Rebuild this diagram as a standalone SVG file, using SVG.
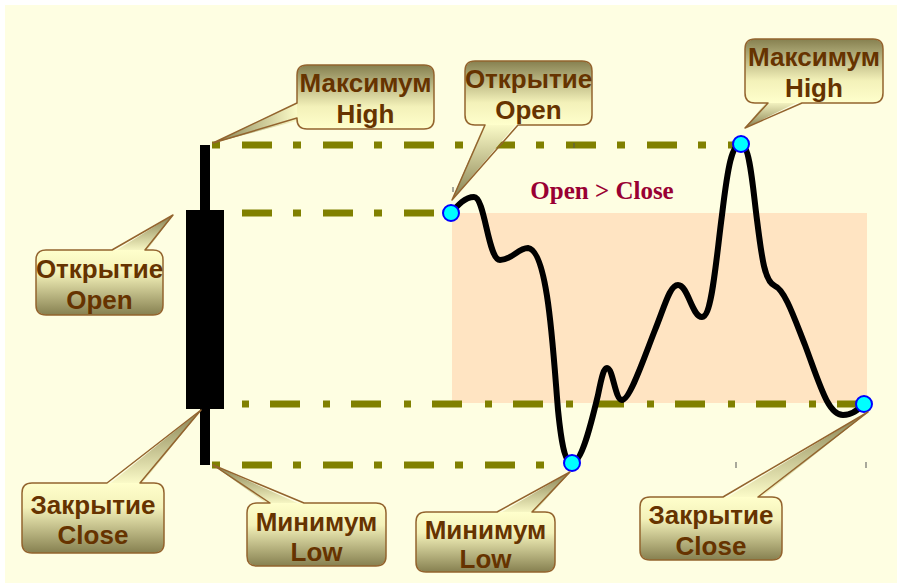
<svg xmlns="http://www.w3.org/2000/svg" width="899" height="584" viewBox="0 0 899 584">
<defs>
<linearGradient id="boxDown" x1="0" y1="0" x2="0" y2="1"><stop offset="0" stop-color="#868050"/><stop offset="0.65" stop-color="#F3F1B9"/><stop offset="1" stop-color="#FFFFCC"/></linearGradient>
<linearGradient id="boxUp" x1="0" y1="1" x2="0" y2="0"><stop offset="0" stop-color="#868050"/><stop offset="0.65" stop-color="#F3F1B9"/><stop offset="1" stop-color="#FFFFCC"/></linearGradient>
<linearGradient id="tailDown" x1="0" y1="0" x2="0" y2="1"><stop offset="0" stop-color="#FFFFCC"/><stop offset="1" stop-color="#868050"/></linearGradient>
<linearGradient id="tailUp" x1="0" y1="1" x2="0" y2="0"><stop offset="0" stop-color="#FFFFCC"/><stop offset="1" stop-color="#868050"/></linearGradient>
<linearGradient id="tailLeft" x1="1" y1="0" x2="0" y2="0"><stop offset="0" stop-color="#FFFFCC"/><stop offset="1" stop-color="#868050"/></linearGradient>
<style>
.outline{fill:none;stroke:#93642E;stroke-width:1.5;stroke-linejoin:round}
.lbl{font-family:"Liberation Sans",Arial,sans-serif;font-weight:bold;font-size:26px;fill:#663300;text-anchor:middle}
.dd{stroke:#808000;stroke-width:7;fill:none}
.pt{fill:#00FFFF;stroke:#0000FF;stroke-width:2}
.tick{stroke:#555;stroke-width:1}
</style>
</defs>
<rect x="0" y="0" width="899" height="584" fill="#FFFFFF"/>
<rect x="5" y="5" width="892" height="578" fill="#FEFEE2"/>
<rect x="452" y="213" width="415" height="190" fill="#FFE4C2"/>
<text x="602" y="199" font-family="Liberation Serif,Times New Roman,serif" font-weight="bold" font-size="25" fill="#990033" text-anchor="middle">Open &gt; Close</text>
<g id="connectors">
<line class="dd" x1="212" y1="145" x2="741" y2="145" stroke-dasharray="8 22 30 21"/>
<line class="dd" x1="242" y1="213" x2="450" y2="213" stroke-dasharray="30 21 8 22"/>
<line class="dd" x1="242" y1="404" x2="864" y2="404" stroke-dasharray="7 21 30 23"/>
<line class="dd" x1="212" y1="465" x2="572" y2="465" stroke-dasharray="8 22 30 21"/>
<line class="tick" x1="453" y1="187" x2="453" y2="192"/>
<line class="tick" x1="574" y1="143" x2="574" y2="148"/>
<line class="tick" x1="736" y1="462" x2="736" y2="468"/>
<line class="tick" x1="866" y1="462" x2="866" y2="468"/>
</g>
<g id="candle">
<rect x="200" y="145" width="10" height="320" fill="#000"/>
<rect x="186" y="210" width="38" height="199" fill="#000"/>
</g>
<g id="price-curve">
<path d="M451,213 C458,205 465,197 474,197 C485,197 488,260 500,260 C512,260 518,248 528,248 C548,250 553,350 558,410 C562,450 566,463 572,463 C582,463 592,420 598,395 C602,375 604,368 607,368 C613,368 615,400 622,400 C630,400 645,355 655,330 C665,305 670,285 678,285 C688,285 692,317 702,317 C712,317 716,260 722,215 C728,165 732,144 741,144 C750,144 753,190 757,220 C762,260 765,282 775,286 C785,290 795,320 805,345 C820,385 828,415 843,415 C852,415 858,410 864,404" fill="none" stroke="#000" stroke-width="6" stroke-linecap="round" stroke-linejoin="round"/>
<circle class="pt" cx="451" cy="213" r="8"/>
<circle class="pt" cx="741" cy="144" r="8"/>
<circle class="pt" cx="572" cy="463" r="8"/>
<circle class="pt" cx="864" cy="404" r="8"/>
</g>
<g id="c-max-left">
<polygon points="300,101 213,143 300,120" fill="url(#tailLeft)"/>
<rect x="297" y="65" width="137" height="64" rx="10" fill="url(#boxDown)"/>
<path class="outline" d="M307,65 L424,65 Q434,65 434,75 L434,119 Q434,129 424,129 L307,129 Q297,129 297,119 L297,118 L213,143 L297,103 L297,75 Q297,65 307,65 Z"/>
<text class="lbl" x="365.5" y="92">Максимум</text>
<text class="lbl" x="365.5" y="123">High</text>
</g>
<g id="c-open-top">
<polygon points="485,122 452,200 518,122" fill="url(#tailDown)"/>
<rect x="465" y="61" width="127" height="64" rx="10" fill="url(#boxDown)"/>
<path class="outline" d="M475,61 L582,61 Q592,61 592,71 L592,115 Q592,125 582,125 L518,125 L452,200 L485,125 L475,125 Q465,125 465,115 L465,71 Q465,61 475,61 Z"/>
<text class="lbl" x="528.5" y="88">Открытие</text>
<text class="lbl" x="528.5" y="119">Open</text>
</g>
<g id="c-max-right">
<polygon points="768,100 745,128 802,100" fill="url(#tailDown)"/>
<rect x="745" y="39" width="138" height="64" rx="10" fill="url(#boxDown)"/>
<path class="outline" d="M755,39 L873,39 Q883,39 883,49 L883,93 Q883,103 873,103 L802,103 L745,128 L768,103 L755,103 Q745,103 745,93 L745,49 Q745,39 755,39 Z"/>
<text class="lbl" x="814" y="66">Максимум</text>
<text class="lbl" x="814" y="97">High</text>
</g>
<g id="c-open-left">
<polygon points="112,253 173,215 145,253" fill="url(#tailUp)"/>
<rect x="36" y="250" width="127" height="65" rx="10" fill="url(#boxUp)"/>
<path class="outline" d="M46,250 L112,250 L173,215 L145,250 L153,250 Q163,250 163,260 L163,305 Q163,315 153,315 L46,315 Q36,315 36,305 L36,260 Q36,250 46,250 Z"/>
<text class="lbl" x="99.5" y="278">Открытие</text>
<text class="lbl" x="99.5" y="309">Open</text>
</g>
<g id="c-close-left">
<polygon points="107,486 201,410 140,486" fill="url(#tailUp)"/>
<rect x="22" y="483" width="142" height="70" rx="10" fill="url(#boxUp)"/>
<path class="outline" d="M32,483 L107,483 L201,410 L140,483 L154,483 Q164,483 164,493 L164,543 Q164,553 154,553 L32,553 Q22,553 22,543 L22,493 Q22,483 32,483 Z"/>
<text class="lbl" x="93" y="514">Закрытие</text>
<text class="lbl" x="93" y="544">Close</text>
</g>
<g id="c-min-left">
<polygon points="270,506 213,465 304,506" fill="url(#tailUp)"/>
<rect x="247" y="503" width="139" height="63" rx="10" fill="url(#boxUp)"/>
<path class="outline" d="M257,503 L270,503 L213,465 L304,503 L376,503 Q386,503 386,513 L386,556 Q386,566 376,566 L257,566 Q247,566 247,556 L247,513 Q247,503 257,503 Z"/>
<text class="lbl" x="316.5" y="531">Минимум</text>
<text class="lbl" x="316.5" y="561">Low</text>
</g>
<g id="c-min-mid">
<polygon points="497,515 570,472 532,515" fill="url(#tailUp)"/>
<rect x="416" y="512" width="139" height="60" rx="10" fill="url(#boxUp)"/>
<path class="outline" d="M426,512 L497,512 L570,472 L532,512 L545,512 Q555,512 555,522 L555,562 Q555,572 545,572 L426,572 Q416,572 416,562 L416,522 Q416,512 426,512 Z"/>
<text class="lbl" x="485.5" y="539">Минимум</text>
<text class="lbl" x="485.5" y="568">Low</text>
</g>
<g id="c-close-right">
<polygon points="723,500 868,412 758,500" fill="url(#tailUp)"/>
<rect x="640" y="497" width="142" height="63" rx="10" fill="url(#boxUp)"/>
<path class="outline" d="M650,497 L723,497 L868,412 L758,497 L772,497 Q782,497 782,507 L782,550 Q782,560 772,560 L650,560 Q640,560 640,550 L640,507 Q640,497 650,497 Z"/>
<text class="lbl" x="711" y="524">Закрытие</text>
<text class="lbl" x="711" y="555">Close</text>
</g>
</svg>
